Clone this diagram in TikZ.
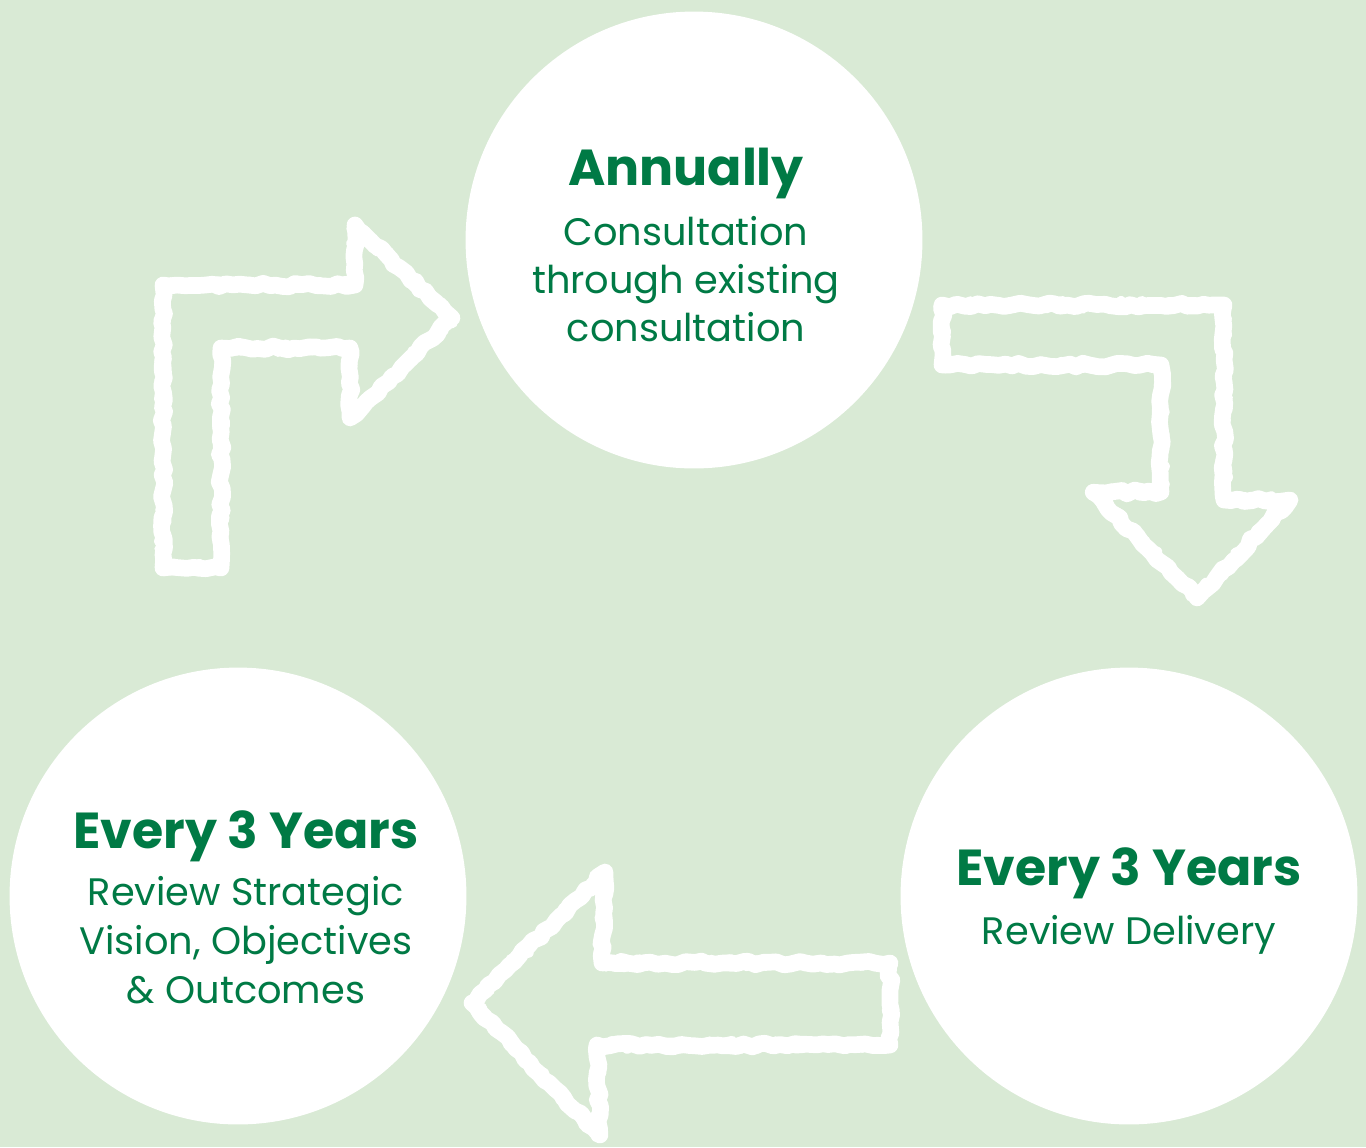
\documentclass[tikz,border=0pt]{standalone}
\usepackage{fontspec}
\usetikzlibrary{positioning,decorations.pathmorphing}
\newfontfamily\poppins{Poppins}
\definecolor{paleleaf}{RGB}{217,234,213}
\definecolor{deepleaf}{RGB}{0,122,69}
\tikzset{
  stage/.style={circle, fill=white, minimum size=9.14cm, inner sep=0pt},
  heading/.style={text=deepleaf, font={\poppins\bfseries\fontsize{28.8}{34}\selectfont}, inner sep=0pt, anchor=base},
  detail/.style={text=deepleaf, font={\poppins\fontsize{21.8}{27.2}\selectfont}, inner sep=0pt, anchor=base},
  chalk/.style={draw=white, line width=9.5pt, line join=round,
    decorate, decoration={random steps, segment length=4pt, amplitude=1.1pt}},
  chalkedge/.style={draw=white, line width=6pt, line join=round,
    decorate, decoration={random steps, segment length=2.5pt, amplitude=2.2pt}},
}
\begin{document}
\begin{tikzpicture}[x=0.02cm, y=-0.02cm]
 \fill[paleleaf] (0,0) rectangle (1366,1147);
 \useasboundingbox (0,0) rectangle (1366,1147);
 \node [stage] (annual) at (694,240) {};
 \node [stage] (strategy) at (238,896) {};
 \node [stage] (delivery) at (1129,896) {};
 \node [heading] (annualhead) at (686,185) {Annually};
 \node [detail] (annualline1) at (686,245) {Consultation};
 \node [detail] (annualline2) at (686,293) {through existing};
 \node [detail] (annualline3) at (686,341) {consultation};
 \node [heading] (strategyhead) at (246,848) {Every 3 Years};
 \node [detail] (strategyline1) at (246,905) {Review Strategic};
 \node [detail] (strategyline2) at (246,954) {Vision, Objectives};
 \node [detail] (strategyline3) at (246,1003) {\& Outcomes};
 \node [heading] (deliveryhead) at (1129,885) {Every 3 Years};
 \node [detail] (deliveryline1) at (1129,944) {Review Delivery};
 % hand drawn arrows between the stages
 \foreach \pen in {chalk,chalkedge} {
   \draw [\pen] (163,568) -- (163,285) -- (355,285) -- (355,225) -- (452,318)
     -- (350,418) -- (350,348) -- (221,348) -- (221,568) -- cycle;
   \draw [\pen] (942,305) -- (1224,305) -- (1224,500) -- (1290,500) -- (1197,598)
     -- (1093,492) -- (1161,492) -- (1161,365) -- (942,365) -- cycle;
   \draw [\pen] (890,963) -- (602,963) -- (605,872) -- (472,1003) -- (600,1135)
     -- (597,1045) -- (890,1045) -- cycle;
 }
\end{tikzpicture}
\end{document}
